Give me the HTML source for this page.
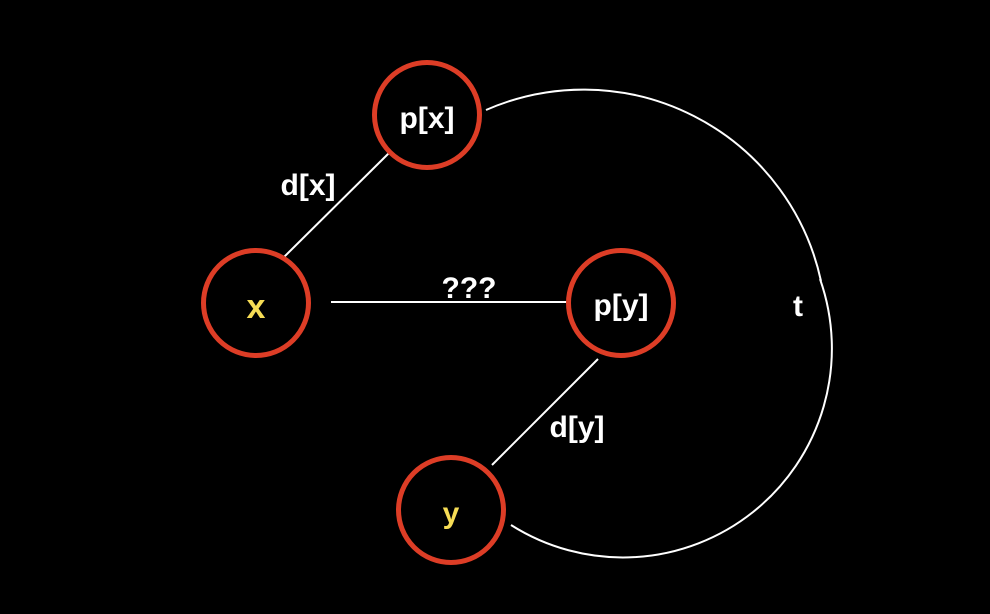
<!DOCTYPE html>
<html><head><style>
html,body{margin:0;padding:0;background:#000;}
svg{display:block;}
text{font-family:"Liberation Sans","DejaVu Sans",sans-serif;font-weight:bold;}
</style></head><body>
<svg width="990" height="614" viewBox="0 0 990 614" xmlns="http://www.w3.org/2000/svg">
<rect width="990" height="614" fill="#000"/>
<g stroke="#fff" stroke-width="2" fill="none">
<line x1="389" y1="153" x2="283" y2="258"/>
<line x1="331" y1="302" x2="569" y2="302"/>
<line x1="598" y1="359" x2="492" y2="465"/>
<path d="M486,110 A243,243 0 0 1 821,281"/>
<path d="M820,279 A209,209 0 0 1 511,525"/>
</g>
<g stroke="#dd3d26" stroke-width="5" fill="#000">
<circle cx="427" cy="115" r="52.5"/>
<circle cx="256" cy="303" r="52.5"/>
<circle cx="621" cy="303" r="52.5"/>
<circle cx="451" cy="510" r="52.5"/>
</g>
<g font-size="30" text-anchor="middle" fill="#fff">
<text x="427" y="128">p[x]</text>
<text x="256" y="318" fill="#f6dc55" font-size="34">x</text>
<text x="621" y="315">p[y]</text>
<text x="451" y="523" fill="#f6dc55">y</text>
<text x="308" y="195">d[x]</text>
<text x="469" y="298">???</text>
<text x="577" y="437">d[y]</text>
<text x="798" y="316">t</text>
</g>
</svg>
</body></html>
